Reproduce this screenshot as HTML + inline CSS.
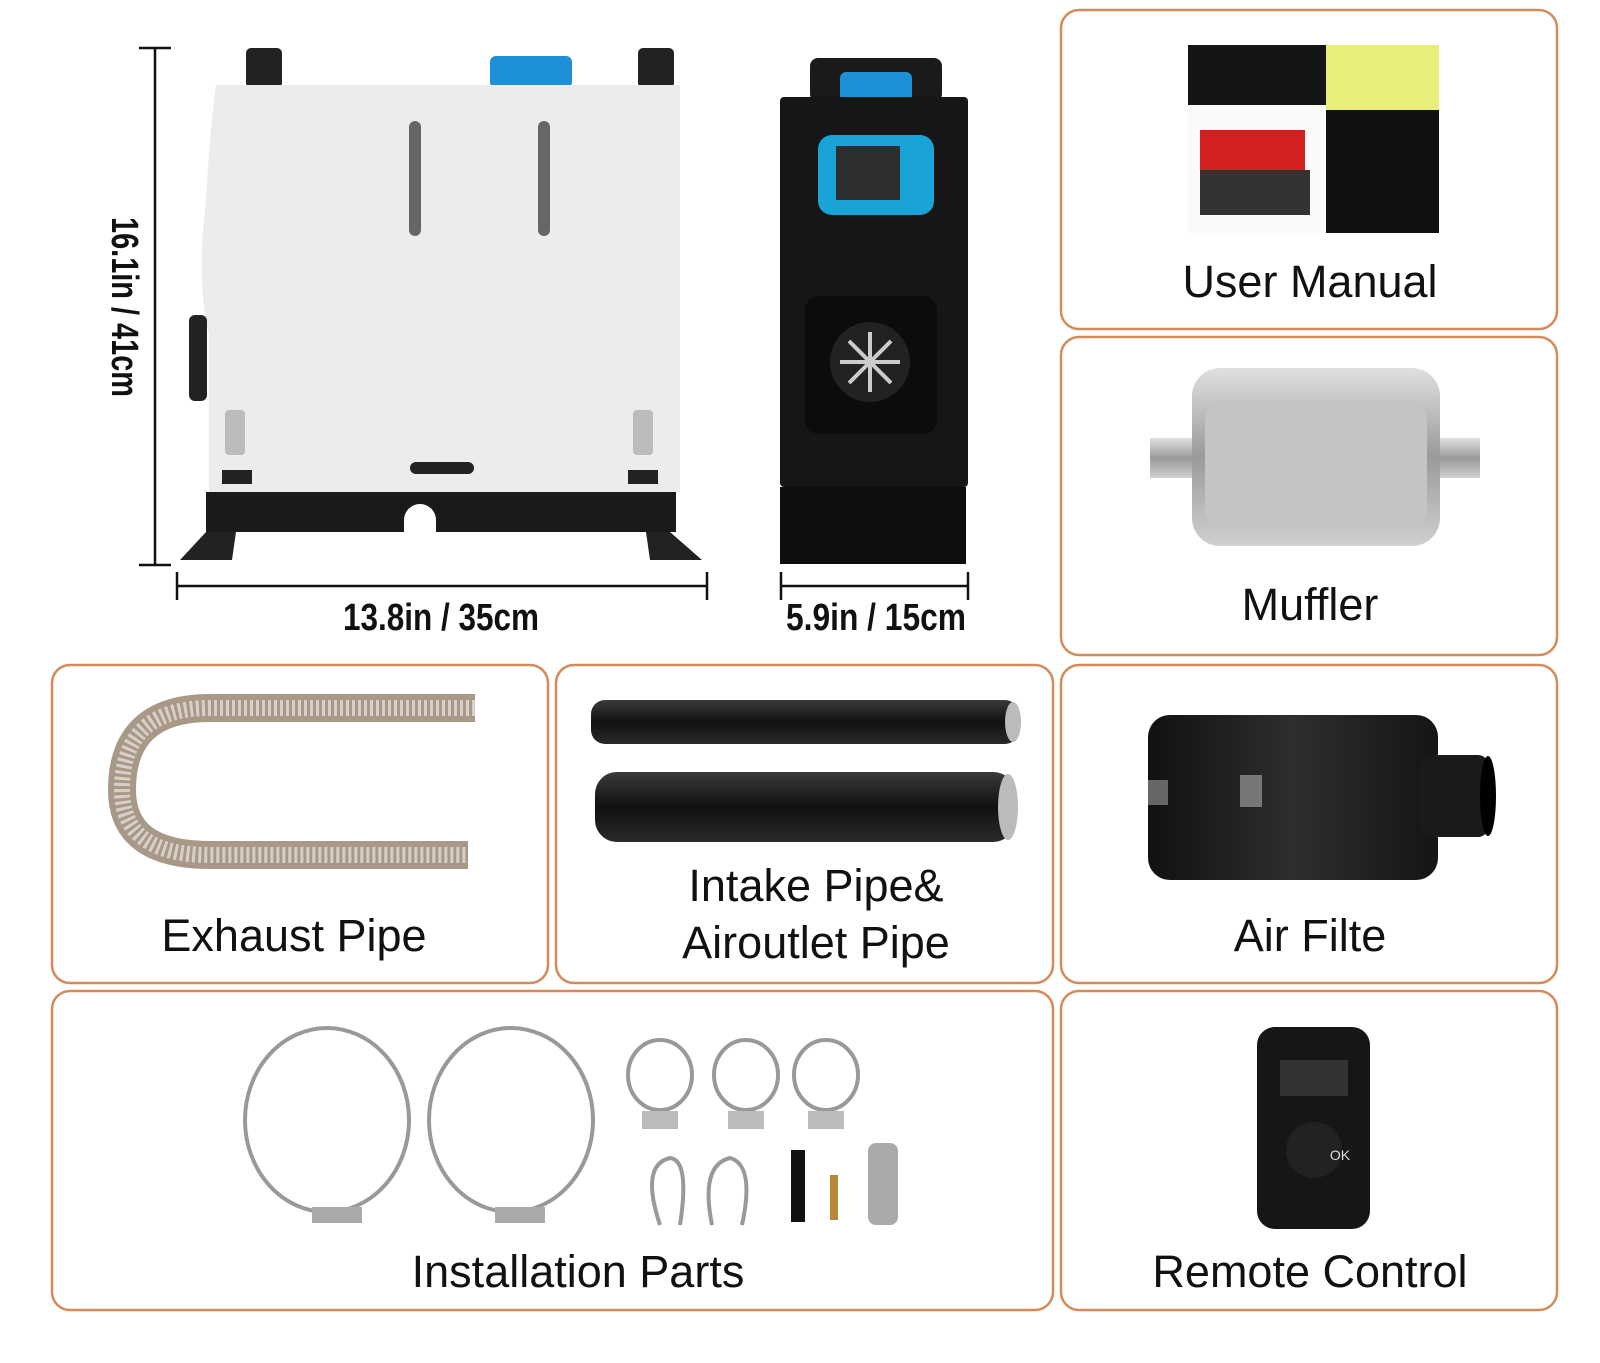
<!DOCTYPE html>
<html><head><meta charset="utf-8"><style>
html,body{margin:0;padding:0;background:#fff;width:1600px;height:1363px;overflow:hidden}
svg{display:block}
text{font-family:"Liberation Sans",Arial,sans-serif}
.lbl{font-size:45px;fill:#111;text-anchor:middle}
.dim{font-size:38px;font-weight:bold;fill:#111;text-anchor:middle}
</style></head><body>
<svg width="1600" height="1363" viewBox="0 0 1600 1363" xmlns="http://www.w3.org/2000/svg">
<defs>
<linearGradient id="steel" x1="0" y1="0" x2="0" y2="1"><stop offset="0" stop-color="#e0e0e0"/><stop offset=".5" stop-color="#9a9a9a"/><stop offset="1" stop-color="#d0d0d0"/></linearGradient>
<linearGradient id="blk" x1="0" y1="0" x2="0" y2="1"><stop offset="0" stop-color="#3a3a3a"/><stop offset=".5" stop-color="#111"/><stop offset="1" stop-color="#2a2a2a"/></linearGradient>
<linearGradient id="blkh" x1="0" y1="0" x2="1" y2="0"><stop offset="0" stop-color="#111"/><stop offset=".5" stop-color="#2e2e2e"/><stop offset="1" stop-color="#151515"/></linearGradient>
</defs>
<g fill="none" stroke="#d58a5a" stroke-width="2.5">
<rect x="1061" y="10" width="496" height="319" rx="18"/>
<rect x="1061" y="337" width="496" height="318" rx="18"/>
<rect x="52" y="665" width="496" height="318" rx="18"/>
<rect x="556" y="665" width="497" height="318" rx="18"/>
<rect x="1061" y="665" width="496" height="318" rx="18"/>
<rect x="52" y="991" width="1001" height="319" rx="18"/>
<rect x="1061" y="991" width="496" height="319" rx="18"/>
</g>

<!-- heater side -->
<rect x="246" y="48" width="36" height="40" rx="5" fill="#222"/>
<rect x="638" y="48" width="36" height="40" rx="5" fill="#222"/>
<rect x="490" y="56" width="82" height="32" rx="6" fill="#1e90d8"/>
<path d="M216 85 H680 V492 H209 V335 Q196 280 206 200 Q210 130 216 85Z" fill="#ececec"/>
<rect x="189" y="315" width="18" height="86" rx="6" fill="#222"/>
<rect x="409" y="121" width="12" height="115" rx="6" fill="#666"/>
<rect x="538" y="121" width="12" height="115" rx="6" fill="#666"/>
<rect x="410" y="462" width="64" height="12" rx="6" fill="#222"/>
<rect x="225" y="410" width="20" height="45" rx="4" fill="#bbb"/><rect x="222" y="470" width="30" height="14" fill="#222"/>
<rect x="633" y="410" width="20" height="45" rx="4" fill="#bbb"/><rect x="628" y="470" width="30" height="14" fill="#222"/>
<path d="M206 492 H676 V532 H436 V520 A16 16 0 0 0 404 520 V532 H206Z" fill="#1a1a1a"/>
<path d="M206 532 L180 560 H232 L236 532Z M670 532 L702 560 H650 L646 532Z" fill="#222"/>
<!-- dims -->
<g stroke="#111" stroke-width="2.5">
<line x1="155" y1="48" x2="155" y2="565"/><line x1="139" y1="48" x2="171" y2="48"/><line x1="139" y1="565" x2="171" y2="565"/>
<line x1="177" y1="586" x2="707" y2="586"/><line x1="177" y1="572" x2="177" y2="600"/><line x1="707" y1="572" x2="707" y2="600"/>
<line x1="781" y1="586" x2="968" y2="586"/><line x1="781" y1="572" x2="781" y2="600"/><line x1="968" y1="572" x2="968" y2="600"/>
</g>
<text class="dim" transform="translate(112,307) rotate(90)" textLength="180" lengthAdjust="spacingAndGlyphs">16.1in / 41cm</text>
<text class="dim" x="441" y="630" textLength="196" lengthAdjust="spacingAndGlyphs">13.8in / 35cm</text>
<text class="dim" x="876" y="630" textLength="180" lengthAdjust="spacingAndGlyphs">5.9in / 15cm</text>
<!-- heater front -->
<rect x="810" y="58" width="132" height="44" rx="8" fill="#1a1a1a"/>
<rect x="840" y="72" width="72" height="30" rx="6" fill="#1e90d8"/>
<rect x="780" y="97" width="188" height="390" rx="4" fill="#161616"/>
<rect x="780" y="487" width="186" height="77" fill="#0e0e0e"/>
<rect x="818" y="135" width="116" height="80" rx="14" fill="#1aa3d6"/>
<rect x="836" y="146" width="64" height="54" fill="#2e2e2e"/>
<rect x="805" y="296" width="132" height="138" rx="14" fill="#0c0c0c"/>
<circle cx="870" cy="362" r="40" fill="#222"/>
<g stroke="#ccc" stroke-width="4"><line x1="840" y1="362" x2="900" y2="362"/><line x1="870" y1="332" x2="870" y2="392"/><line x1="849" y1="341" x2="891" y2="383"/><line x1="891" y1="341" x2="849" y2="383"/></g>

<!-- user manual -->
<rect x="1188" y="45" width="251" height="188" fill="#fafafa"/>
<rect x="1188" y="45" width="138" height="60" fill="#151515"/>
<rect x="1326" y="45" width="113" height="65" fill="#e9ee7a"/>
<rect x="1326" y="110" width="113" height="123" fill="#111"/>
<rect x="1200" y="130" width="105" height="80" fill="#d42020"/>
<rect x="1200" y="170" width="110" height="45" fill="#333"/>
<text class="lbl" x="1310" y="297">User Manual</text>
<!-- muffler -->
<rect x="1150" y="438" width="330" height="40" fill="url(#steel)"/>
<rect x="1192" y="368" width="248" height="178" rx="28" fill="url(#steel)"/>
<rect x="1205" y="400" width="222" height="130" rx="20" fill="#c4c4c4"/>
<text class="lbl" x="1310" y="620">Muffler</text>
<!-- exhaust -->
<path d="M475 708 H210 Q122 708 122 790 Q122 855 210 855 H468" fill="none" stroke="#a89888" stroke-width="28"/>
<path d="M475 708 H210 Q122 708 122 790 Q122 855 210 855 H468" fill="none" stroke="#d8d0c8" stroke-width="16" stroke-dasharray="3 3"/>
<text class="lbl" x="294" y="951">Exhaust Pipe</text>
<!-- intake -->
<rect x="591" y="700" width="428" height="44" rx="14" fill="url(#blk)"/>
<ellipse cx="1013" cy="722" rx="8" ry="20" fill="#bbb"/>
<rect x="595" y="772" width="420" height="70" rx="22" fill="url(#blk)"/>
<ellipse cx="1008" cy="807" rx="10" ry="33" fill="#bbb"/>
<text class="lbl" x="816" y="901">Intake Pipe&amp;</text>
<text class="lbl" x="816" y="958">Airoutlet Pipe</text>
<!-- air filter -->
<rect x="1148" y="715" width="290" height="165" rx="22" fill="url(#blkh)"/>
<rect x="1420" y="755" width="68" height="82" rx="10" fill="#1a1a1a"/>
<ellipse cx="1488" cy="796" rx="8" ry="40" fill="#000"/>
<rect x="1148" y="780" width="20" height="25" fill="#666"/><rect x="1240" y="775" width="22" height="32" fill="#777"/>
<text class="lbl" x="1310" y="951">Air Filte</text>
<!-- install parts -->
<g fill="none" stroke="#999" stroke-width="4">
<ellipse cx="327" cy="1120" rx="82" ry="92"/>
<ellipse cx="511" cy="1120" rx="82" ry="92"/>
<ellipse cx="660" cy="1075" rx="32" ry="35"/>
<ellipse cx="746" cy="1075" rx="32" ry="35"/>
<ellipse cx="826" cy="1075" rx="32" ry="35"/>
<path d="M660 1225 Q640 1165 670 1158 Q690 1160 680 1225"/>
<path d="M712 1225 Q700 1165 730 1158 Q755 1165 742 1225"/>
</g>
<rect x="312" y="1207" width="50" height="16" fill="#aaa"/><rect x="495" y="1207" width="50" height="16" fill="#aaa"/>
<rect x="642" y="1111" width="36" height="18" fill="#bbb"/><rect x="728" y="1111" width="36" height="18" fill="#bbb"/><rect x="808" y="1111" width="36" height="18" fill="#bbb"/>
<rect x="791" y="1150" width="14" height="72" fill="#111"/>
<rect x="830" y="1175" width="8" height="45" fill="#b8883a"/>
<rect x="868" y="1143" width="30" height="82" rx="8" fill="#aaa"/>
<text class="lbl" x="578" y="1287">Installation Parts</text>
<!-- remote -->
<rect x="1257" y="1027" width="113" height="202" rx="18" fill="#161616"/>
<rect x="1280" y="1060" width="68" height="36" fill="#333"/>
<circle cx="1314" cy="1150" r="28" fill="#222"/>
<text x="1340" y="1160" font-size="14" fill="#ddd" text-anchor="middle">OK</text>
<text class="lbl" x="1310" y="1287">Remote Control</text>
</svg>
</body></html>
